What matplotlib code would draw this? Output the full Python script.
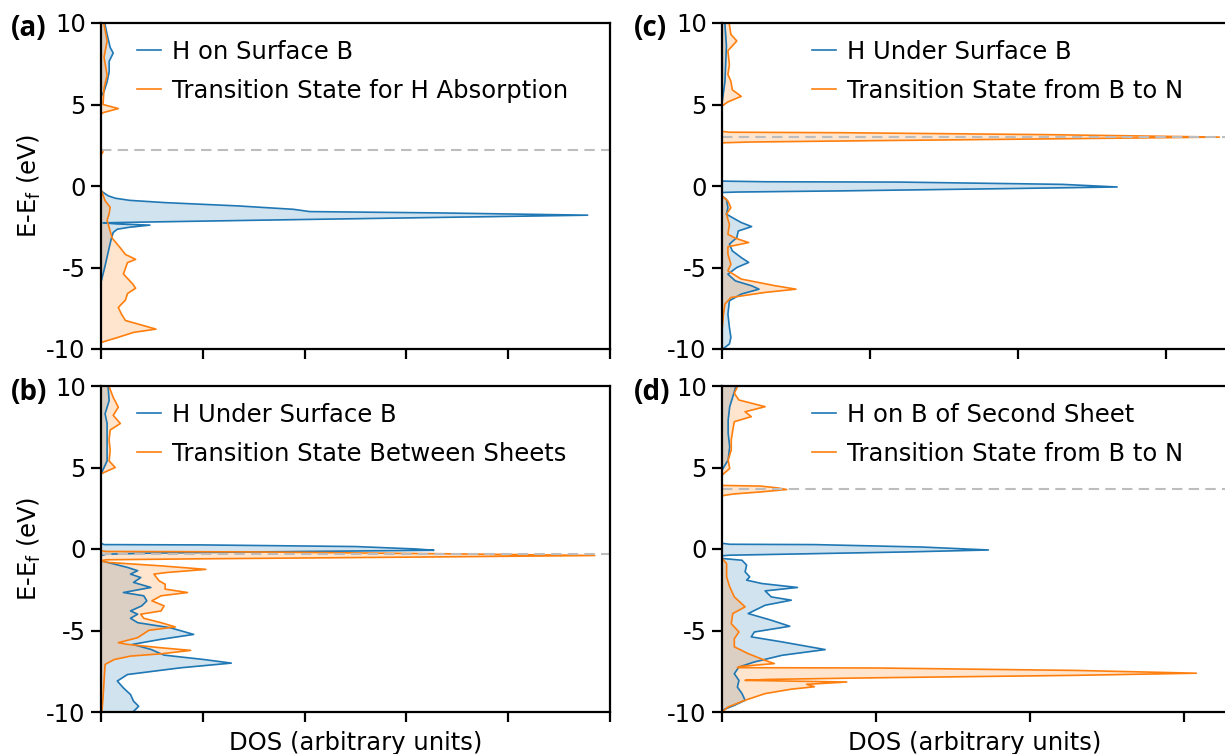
import matplotlib

matplotlib.use("Agg")
import matplotlib.pyplot as plt

# --- DOS traces (energy in eV, DOS in tick units) ----------------------------
a_blue_e = [10, 9.9, 9.3, 8.5, 8.16, 7.65, 7.0, 6.4, 5.8, 5.5, -0.3, -0.6, -0.75, -0.88,
            -1.02, -1.22, -1.43, -1.57, -1.65, -1.79, -1.93, -2.08, -2.2, -2.26, -2.33,
            -2.4, -2.53, -2.65, -2.85, -3.26, -4.07, -4.9, -5.9, -10]
a_blue_dos = [0.04, 0.04, 0.06, 0.09, 0.12, 0.08, 0.08, 0.06, 0.03, 0, 0, 0.07, 0.14, 0.28,
              0.63, 1.34, 1.89, 2.05, 3.3, 4.78, 3.3, 1.73, 0.55, 0.02, 0.16,
              0.48, 0.28, 0.16, 0.12, 0.1, 0.07, 0.04, 0, 0]
a_orng_e = [10, 9.9, 8.9, 7.9, 6.8, 6.0, 5.0, 4.75, 4.5, 4.4, 2.3, 2.1, 1.9, -0.2, -0.9,
            -1.3, -1.7, -2.1, -2.55, -3.2, -3.8, -4.2, -4.5, -4.7, -5.4, -6.0, -6.27, -6.6,
            -7.0, -7.45, -7.85, -8.25, -8.57, -8.78, -8.98, -9.3, -9.6, -10]
a_orng_dos = [0.03, 0.03, 0.06, 0.03, 0.06, 0.03, 0.02, 0.17, 0.02, 0, 0, 0.02, 0, 0, 0.04,
              0.09, 0.08, 0.06, 0.08, 0.11, 0.19, 0.24, 0.34, 0.26, 0.22, 0.31, 0.34, 0.26,
              0.24, 0.17, 0.2, 0.24, 0.42, 0.54, 0.32, 0.16, 0, 0]

b_blue_e = [10, 9.96, 9.1, 8.3, 7.7, 6.9, 6.05, 5.4, 5.0, 4.6, 0.35, 0.27, 0.25, 0.15, 0.0,
            -0.08, -0.15, -0.25, -0.32, -0.4, -0.72, -1.13, -1.33, -1.54, -1.75, -2.05,
            -2.36, -2.67, -2.87, -3.18, -3.49, -3.8, -4.0, -4.25, -4.52, -4.83, -5.24,
            -5.54, -5.85, -6.16, -6.51, -6.78, -7.0, -7.29, -7.7, -8.1, -8.52, -8.93,
            -9.34, -9.65, -9.96, -10]
b_blue_dos = [0.07, 0.07, 0.08, 0.04, 0.06, 0.06, 0.06, 0.06, 0.03, 0, 0, 0.03, 1.0, 2.5, 3.1,
              3.27, 2.0, 0.5, 0.05, 0, 0, 0.26, 0.36, 0.29, 0.39, 0.32,
              0.49, 0.22, 0.42, 0.45, 0.4, 0.29, 0.36, 0.29, 0.36, 0.68, 0.91,
              0.59, 0.31, 0.49, 0.62, 1.01, 1.28, 0.78, 0.26, 0.16, 0.22, 0.29,
              0.32, 0.37, 0.32, 0.3]
b_orng_e = [10, 9.96, 9.3, 8.7, 8.2, 7.7, 7.3, 6.7, 6.05, 5.4, 5.0, 4.7, 4.6, -0.1, -0.15,
            -0.18, -0.3, -0.4, -0.5, -0.6, -0.66, -0.72, -0.82, -1.03, -1.25, -1.44, -1.54,
            -1.95, -2.16, -2.46, -2.67, -2.87, -3.18, -3.49, -3.8, -4.0, -4.25, -4.52,
            -4.78, -4.99, -5.44, -5.75, -5.85, -6.06, -6.22, -6.43, -6.57, -6.78, -7.08,
            -8.1, -9.1, -9.96, -10]
b_orng_dos = [0.08, 0.08, 0.12, 0.17, 0.12, 0.19, 0.09, 0.08, 0.09, 0.08, 0.14, 0.03, 0, 0, 0.05,
              1.5, 3.5, 4.85, 3.0, 1.0, 0.05, 0, 0.06, 0.58, 1.03, 0.65, 0.52,
              0.57, 0.63, 0.63, 0.85, 0.59, 0.5, 0.62, 0.59, 0.39, 0.42, 0.59,
              0.73, 0.47, 0.36, 0.17, 0.26, 0.59, 0.88, 0.59, 0.29, 0.13, 0.04,
              0.03, 0.02, 0.01, 0.01]

c_blue_e = [10, 9.9, 8.6, 6.4, 5.1, 0.3, 0.26, 0.24, 0.1, -0.06, -0.15, -0.3, -0.37, -0.4,
            -0.61, -0.82, -1.33, -1.73, -2.04, -2.24, -2.49, -2.76, -3.16, -3.57, -3.98,
            -4.39, -4.69, -5.0, -5.41, -5.82, -6.12, -6.33, -6.63, -7.04, -7.86, -8.67,
            -9.29, -9.69, -9.9, -10]
c_blue_dos = [0.02, 0.02, 0.03, 0.02, 0, 0, 0.3, 1.2, 2.3, 2.67, 2.0, 0.8, 0.1, 0,
              0, 0.03, 0.04, 0.03, 0.09, 0.13, 0.2, 0.11, 0.1, 0.05, 0.07,
              0.13, 0.18, 0.1, 0.04, 0.09, 0.2, 0.25, 0.13, 0.05, 0.04, 0.05,
              0.06, 0.05, 0.02, 0]
c_orng_e = [10, 9.9, 9.3, 8.9, 8.3, 7.45, 6.84, 6.43, 5.9, 5.5, 5.16, 4.9, 3.35, 3.3, 3.27,
            3.15, 3.0, 2.9, 2.78, 2.7, 2.65, -0.61, -0.92, -1.33, -1.73, -2.35, -2.96, -3.2,
            -3.47, -3.73, -4.18, -4.8, -5.2, -5.71, -6.12, -6.33, -6.53, -6.84, -7.24,
            -7.86, -8.88, -10]
c_orng_dos = [0.05, 0.05, 0.06, 0.1, 0.04, 0.05, 0.04, 0.06, 0.07, 0.13, 0.04, 0, 0, 0.05, 0.8,
              2.2, 3.36, 2.3, 1.0, 0.2, 0, 0, 0.04, 0.06, 0.03, 0.05, 0.04, 0.09,
              0.18, 0.04, 0.04, 0.06, 0.04, 0.13, 0.36, 0.5, 0.29, 0.06, 0.02,
              0.01, 0, 0]

d_blue_e = [10, 9.96, 9.34, 8.73, 7.9, 7.1, 6.27, 5.46, 4.84, 0.35, 0.29, 0.27, 0.12, -0.06,
            -0.18, -0.32, -0.38, -0.42, -0.58, -0.69, -0.99, -1.4, -1.71, -1.91, -2.12,
            -2.36, -2.57, -2.94, -3.14, -3.45, -3.96, -4.37, -4.74, -5.09, -5.39, -5.7,
            -6.17, -6.52, -6.93, -7.24, -7.65, -8.06, -8.47, -8.87, -9.28, -9.59, -9.9, -10]
d_blue_dos = [0.09, 0.09, 0.07, 0.05, 0.04, 0.04, 0.05, 0.04, 0, 0, 0.05, 0.6, 1.3, 1.73,
              1.2, 0.4, 0.05, 0, 0, 0.13, 0.16, 0.15, 0.18, 0.16, 0.26,
              0.49, 0.28, 0.32, 0.45, 0.28, 0.17, 0.32, 0.44, 0.21, 0.19, 0.39,
              0.67, 0.39, 0.21, 0.11, 0.08, 0.11, 0.1, 0.13, 0.15, 0.08, 0, 0]
d_orng_e = [10, 9.96, 9.55, 9.14, 8.73, 8.42, 8.12, 7.81, 7.3, 6.68, 6.07, 5.46, 4.94, 4.53,
            3.9, 3.86, 3.75, 3.65, 3.5, 3.38, 3.3, 3.25, -0.58, -0.89, -1.71, -2.32, -2.94,
            -3.55, -3.96, -4.58, -5.09, -5.5, -6.0, -6.42, -6.83, -7.03, -7.2, -7.28, -7.3,
            -7.45, -7.62, -7.75, -7.9, -8.0, -8.06, -8.16, -8.3, -8.45, -8.6, -8.87, -9.28,
            -9.69, -10]
d_orng_dos = [0.1, 0.1, 0.08, 0.11, 0.28, 0.15, 0.19, 0.08, 0.07, 0.06, 0.06, 0.04, 0.05, 0,
              0, 0.25, 0.36, 0.42, 0.25, 0.08, 0.02, 0, 0, 0.03, 0.03, 0.05, 0.08,
              0.15, 0.07, 0.06, 0.11, 0.08, 0.08, 0.17, 0.28, 0.34, 0.12, 0.1, 1.0,
              2.3, 3.08, 2.3, 1.0, 0.3, 0.15, 0.81, 0.55, 0.6, 0.45, 0.28, 0.15,
              0.04, 0]

panel_tags = ["(a)", "(b)", "(c)", "(d)"]
blue_labels = ["H on Surface B", "H Under Surface B", "H Under Surface B",
               "H on B of Second Sheet"]
orng_labels = ["Transition State for H Absorption", "Transition State Between Sheets",
               "Transition State from B to N", "Transition State from B to N"]
fermi_lines = [2.2, -0.3, 3.0, 3.68]

BLUE = "#1f77b4"
ORANGE = "#ff7f0e"

plt.rcParams.update({
    "font.family": "DejaVu Sans",
    "font.size": 17.5,
    "axes.unicode_minus": False,
    "axes.linewidth": 1.6,
    "xtick.major.width": 1.6, "ytick.major.width": 1.6,
    "xtick.major.size": 7, "ytick.major.size": 7,
    "xtick.major.pad": 4, "ytick.major.pad": 4,
})

W, H = 1225, 754
fig = plt.figure(figsize=(W / 100, H / 100), dpi=100)


def px_axes(x0, y0, x1, y1):
    return fig.add_axes([x0 / W, 1 - y1 / H, (x1 - x0) / W, (y1 - y0) / H])


# (left, top, right, bottom) in pixels, plus x-range in tick units
boxes = [(101, 23, 610, 349, 5.0), (101, 386, 610, 712, 5.0),
         (722, 23, 1228, 349, 506 / 148), (722, 386, 1228, 712, 506 / 154)]
traces = [(a_blue_e, a_blue_dos, a_orng_e, a_orng_dos),
          (b_blue_e, b_blue_dos, b_orng_e, b_orng_dos),
          (c_blue_e, c_blue_dos, c_orng_e, c_orng_dos),
          (d_blue_e, d_blue_dos, d_orng_e, d_orng_dos)]
leg_anchor = [(137, 40), (137, 403), (812, 40), (812, 403)]

for i, ((x0, y0, x1, y1, xmax), (be, bd, oe, od)) in enumerate(zip(boxes, traces)):
    ax = px_axes(x0, y0, x1, y1)
    ax.fill_betweenx(be, 0, bd, color=BLUE, alpha=0.2, lw=0)
    ax.fill_betweenx(oe, 0, od, color=ORANGE, alpha=0.2, lw=0)
    ax.plot(bd, be, color=BLUE, lw=1.2, label=blue_labels[i])
    ax.plot(od, oe, color=ORANGE, lw=1.2, label=orng_labels[i])
    ax.axhline(fermi_lines[i], color="#bdbdbd", ls="--", lw=1.5, dashes=(5, 3))
    ax.set_xlim(0, xmax)
    ax.set_ylim(-10, 10)
    ax.set_yticks([-10, -5, 0, 5, 10])
    ax.set_xticks(range(int(xmax) + 1))
    ax.set_xticklabels([])
    lx, ly = leg_anchor[i]
    ax.legend(loc="upper left", bbox_to_anchor=(lx / W, 1 - ly / H),
              bbox_transform=fig.transFigure, frameon=False, fontsize=17.5,
              handlelength=1.0, handletextpad=0.45, labelspacing=0.6,
              borderaxespad=0, borderpad=0)
    if i in (0, 1):
        ax.set_ylabel(r"E-E$_\mathrm{f}$ (eV)", labelpad=2)
    if i in (1, 3):
        ax.set_xlabel("DOS (arbitrary units)", labelpad=3)
    tx = 11 if i < 2 else 634
    ty = 29 if i % 2 == 0 else 392
    fig.text(tx / W, 1 - ty / H, panel_tags[i], ha="left", va="center",
             fontsize=20, fontweight="bold", family="Open Sans")

fig.savefig("out.png", dpi=100)
